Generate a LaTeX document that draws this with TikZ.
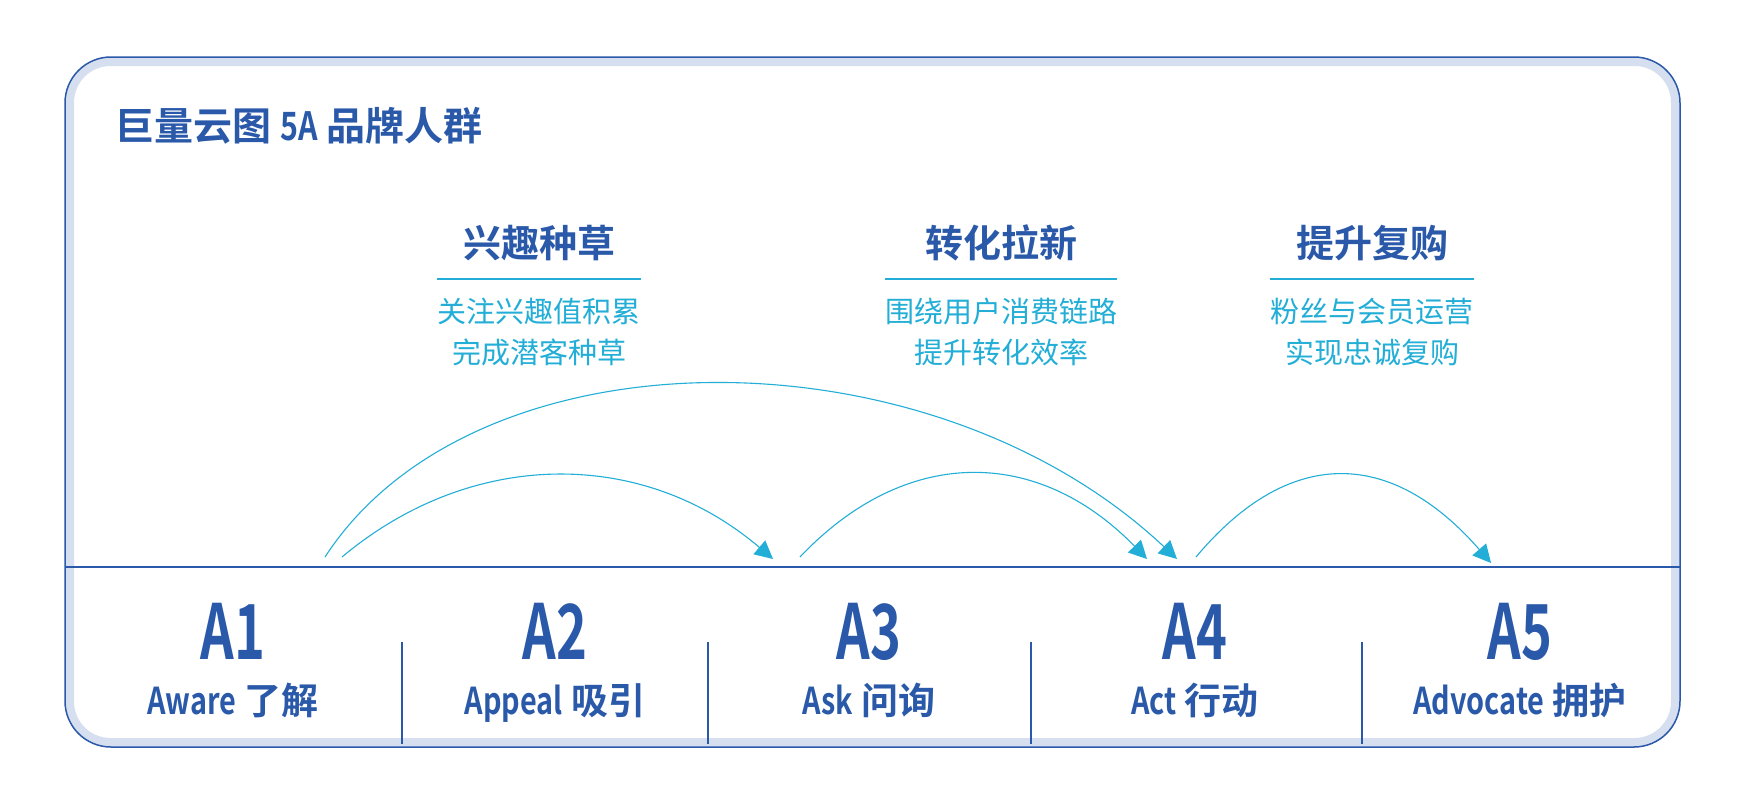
\documentclass[tikz,border=0pt]{standalone}
\usepackage{fontspec}
\setmainfont{Noto Sans CJK SC}[BoldFont={Noto Sans CJK SC Bold}]
\newfontfamily\narrowfont{Noto Sans CJK SC}[BoldFont={Noto Sans CJK SC Bold}, FakeStretch=0.78]
\newfontfamily\tallfont{Noto Sans CJK SC}[BoldFont={Noto Sans CJK SC Bold}, FakeStretch=0.69]
\usetikzlibrary{arrows.meta}

\definecolor{deepblue}{HTML}{2A59A9}
\definecolor{skyblue}{HTML}{22AED6}
\definecolor{paleband}{HTML}{D6DFEF}

\tikzset{
    stagecode/.style={text=deepblue, inner sep=0pt, anchor=base,
        font=\tallfont\bfseries\fontsize{76}{76}\selectfont},
    stagename/.style={text=deepblue, inner sep=0pt, anchor=base,
        font=\bfseries\fontsize{37}{37}\selectfont},
    topic/.style={text=deepblue, inner sep=0pt, anchor=base,
        font=\bfseries\fontsize{38}{38}\selectfont},
    topicnote/.style={text=skyblue, inner sep=0pt, align=center,
        font=\fontsize{29}{41}\selectfont},
    jump/.style={skyblue, line width=1.1pt, -{Triangle[length=18pt, width=18pt]}},
}

\begin{document}
\begin{tikzpicture}[x=1pt, y=-1pt]
    \useasboundingbox (0,0) rectangle (1750,798);
    \fill[white] (0,0) rectangle (1750,798);

    % frame
    \draw[paleband, line width=9pt, rounded corners=41pt] (69.5,61.5) rectangle (1675.5,742.5);
    \draw[deepblue, line width=1.5pt, rounded corners=46pt] (65,57) rectangle (1680,747);

    \node[anchor=base west, text=deepblue, inner sep=0pt, font=\bfseries\fontsize{39}{39}\selectfont]
        (title) at (115,140) {巨量云图 {\narrowfont 5A} 品牌人群};

    % stage row
    \draw[deepblue, line width=1.5pt] (65,567) -- (1680,567);
    \draw[deepblue, line width=1.2pt] (402,642) -- (402,744);
    \draw[deepblue, line width=1.2pt] (708,642) -- (708,744);
    \draw[deepblue, line width=1.2pt] (1031,642) -- (1031,744);
    \draw[deepblue, line width=1.2pt] (1362,642) -- (1362,744);

    \node[stagecode] (a1) at (233,659) {A1};
    \node[stagename] (n1) at (233,714) {{\narrowfont Aware} 了解};
    \node[stagecode] (a2) at (555,659) {A2};
    \node[stagename] (n2) at (555,714) {{\narrowfont Appeal} 吸引};
    \node[stagecode] (a3) at (869,659) {A3};
    \node[stagename] (n3) at (869,714) {{\narrowfont Ask} 问询};
    \node[stagecode] (a4) at (1195,659) {A4};
    \node[stagename] (n4) at (1195,714) {{\narrowfont Act} 行动};
    \node[stagecode] (a5) at (1520,659) {A5};
    \node[stagename] (n5) at (1520,714) {{\narrowfont Advocate} 拥护};

    % topics
    \node[topic] (t1) at (539,257) {兴趣种草};
    \node[topicnote] (d1) at (539,332) {关注兴趣值积累\\完成潜客种草};
    \draw[skyblue, line width=1.2pt] (d1.west |- 0,279) -- (d1.east |- 0,279);

    \node[topic] (t2) at (1001,257) {转化拉新};
    \node[topicnote] (d2) at (1001,332) {围绕用户消费链路\\提升转化效率};
    \draw[skyblue, line width=1.2pt] (d2.west |- 0,279) -- (d2.east |- 0,279);

    \node[topic] (t3) at (1372,257) {提升复购};
    \node[topicnote] (d3) at (1372,332) {粉丝与会员运营\\实现忠诚复购};
    \draw[skyblue, line width=1.2pt] (d3.west |- 0,279) -- (d3.east |- 0,279);

    % jumps between stages
    \coordinate (o1) at (325,557);
    \coordinate (o4) at (1177,559);
    \coordinate (p1) at (342,557);
    \coordinate (p2) at (773,559);
    \coordinate (r3) at (800,557);
    \coordinate (r4) at (1147,559);
    \coordinate (s4) at (1196,557);
    \coordinate (s5) at (1491,563);

    \draw[jump] (o1) .. controls +(150,-231) and +(-248,-233) .. (o4);
    \draw[jump] (p1) .. controls +(130,-109) and +(-130,-111) .. (p2);
    \draw[jump] (r3) .. controls +(105,-111) and +(-110,-113) .. (r4);
    \draw[jump] (s4) .. controls +(93,-111) and +(-100,-115) .. (s5);
\end{tikzpicture}
\end{document}
